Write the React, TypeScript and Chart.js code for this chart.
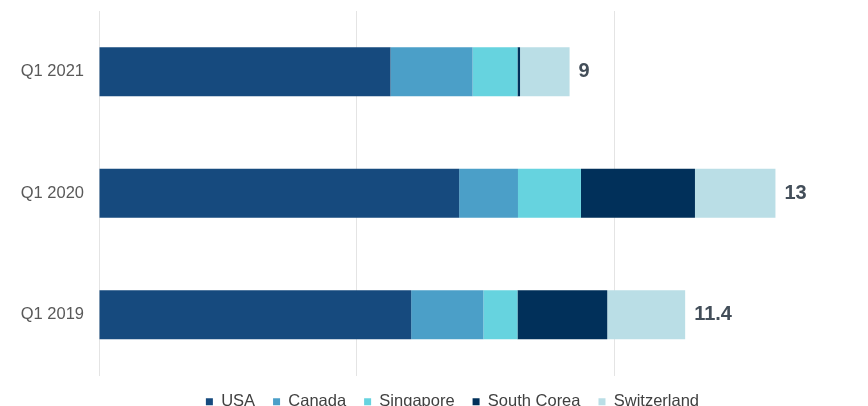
import React, { useEffect, useRef } from "react";
import { Chart, registerables } from "chart.js";

Chart.register(...registerables);

const categories = ["Q1 2021", "Q1 2020", "Q1 2019"];
const seriesNames = ["USA", "Canada", "Singapore", "South Corea", "Switzerland"];
const usa = [5.65, 6.98, 6.05];
const canada = [1.59, 1.14, 1.4];
const singapore = [0.87, 1.22, 0.66];
const southCorea = [0.05, 2.21, 1.74];
const switzerland = [0.96, 1.56, 1.51];
const totalLabels = ["9", "13", "11.4"];
const xTicks = [0, 5, 10];
const xMax = 13.7;
const seriesColors = ["#164A7E", "#4B9FC8", "#66D3DF", "#01305A", "#BADEE6"];

const FONT = '"Liberation Sans", Arial, sans-serif';

const totalsPlugin = {
  id: "totals",
  afterDatasetsDraw(chart: any) {
    const { ctx, scales } = chart;
    const x = scales.x;
    const y = scales.y;
    ctx.save();
    ctx.font = `bold 20px ${FONT}`;
    ctx.fillStyle = "#434E59";
    ctx.textAlign = "left";
    ctx.textBaseline = "middle";
    categories.forEach((_, i) => {
      const sum = chart.data.datasets.reduce(
        (s: number, d: any) => s + (d.data[i] as number),
        0
      );
      ctx.fillText(totalLabels[i], x.getPixelForValue(sum) + 9, y.getPixelForValue(i));
    });
    ctx.restore();
  },
};

export default function App() {
  const canvasRef = useRef<HTMLCanvasElement | null>(null);

  useEffect(() => {
    if (!canvasRef.current) return;
    const seriesData = [usa, canada, singapore, southCorea, switzerland];
    const chart = new Chart(canvasRef.current, {
      type: "bar",
      data: {
        labels: categories,
        datasets: seriesNames.map((name, k) => ({
          label: name,
          data: seriesData[k],
          backgroundColor: seriesColors[k],
          borderWidth: 0,
          barPercentage: 0.404,
          categoryPercentage: 1,
        })),
      },
      options: {
        indexAxis: "y",
        responsive: true,
        maintainAspectRatio: false,
        animation: false,
        layout: { padding: { top: 11, right: 62.1, bottom: 0, left: 0 } },
        scales: {
          x: {
            stacked: true,
            min: 0,
            max: xMax,
            afterBuildTicks: (axis: any) => {
              axis.ticks = xTicks.map((v) => ({ value: v }));
            },
            ticks: { display: false },
            grid: { color: "#E4E4E4", lineWidth: 1, drawTicks: false },
            border: { display: false },
          },
          y: {
            stacked: true,
            afterFit: (scale: any) => {
              scale.width = 99;
              scale.paddingTop = 0;
              scale.paddingBottom = 0;
            },
            ticks: {
              padding: 15,
              color: "#595959",
              font: { family: FONT, size: 16.5 },
            },
            grid: { display: false, drawTicks: false },
            border: { display: false },
          },
        },
        plugins: {
          legend: {
            position: "bottom",
            align: "center",
            fullSize: false,
            labels: {
              boxWidth: 7,
              boxHeight: 7,
              padding: 18,
              color: "#404040",
              font: { family: FONT, size: 16.5 },
            },
          },
          tooltip: { enabled: false },
        },
      },
      plugins: [totalsPlugin],
    });
    return () => chart.destroy();
  }, []);

  return (
    <div
      style={{
        position: "fixed",
        left: 0,
        top: 0,
        width: 868,
        height: 406,
        overflow: "hidden",
        background: "#ffffff",
      }}
    >
      <div style={{ position: "relative", width: 868, height: 420 }}>
        <canvas ref={canvasRef} />
      </div>
    </div>
  );
}
